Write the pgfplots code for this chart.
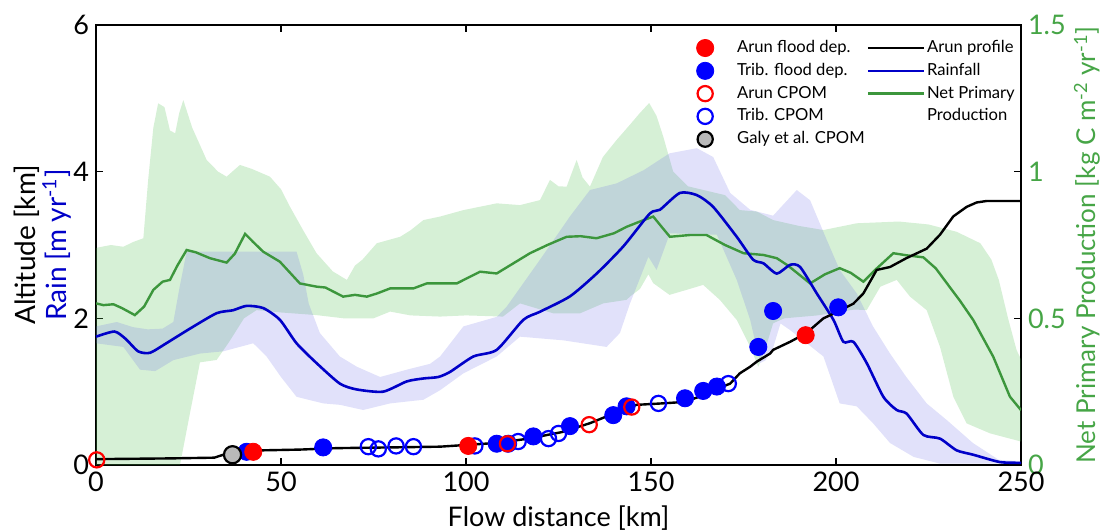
\documentclass[border=0pt]{standalone}
\usepackage{pgfplots}
\pgfplotsset{compat=1.18}
\usepgfplotslibrary{fillbetween}
\usepackage{fontspec}
\setmainfont{Lato}
\definecolor{rainblue}{RGB}{0,0,200}
\definecolor{nppgreen}{RGB}{60,150,60}
\definecolor{labgreen}{RGB}{70,165,70}
\definecolor{bandgreen}{RGB}{91,195,91}
\definecolor{bandblue}{RGB}{105,105,230}
\definecolor{galygray}{RGB}{185,185,185}
\begin{document}
\begin{tikzpicture}
% ---------------- right axis: Net Primary Production ----------------
\begin{axis}[
  width=462.5pt, height=220pt, scale only axis,
  xmin=0, xmax=250, ymin=0, ymax=1.5,
  axis y line*=right, axis x line=none,
  ytick={0,0.5,1,1.5},
  tick align=inside, major tick length=3.5pt,
  y axis line style={black, line width=0.6pt},
  ytick style={black, line width=0.6pt},
  /pgf/number format/assume math mode=true,
  yticklabel style={font=\fontsize{13.5}{15}\selectfont, text=labgreen},
  ylabel={Net Primary Production [kg C m\textsuperscript{-2} yr\textsuperscript{-1}]},
  ylabel style={font=\fontsize{13}{15}\selectfont, text=labgreen,
    at={(axis description cs:1.0715,0.5)}, anchor=center},
]
\addplot[name path=gu, draw=none, forget plot] coordinates {
(0,0.74) (4,0.75) (7.4,0.744) (10,0.76) (12.8,0.773) (14.1,0.972) (15.5,1.15) (16.8,1.233)
(18.5,1.22) (20,1.14) (21.4,1.131) (22.5,1.20) (23.6,1.244) (26,1.15) (29.9,1.04) (33,1.00)
(35.3,0.983) (38.9,1.023) (42,1.01) (47,0.983) (50,0.94) (52.4,0.881) (56,0.80) (59.6,0.722)
(64,0.66) (67.8,0.631) (70,0.68) (72,0.70) (75.9,0.756) (82.2,0.778) (85,0.80) (88.5,0.835)
(93,0.847) (99.3,0.869) (108.3,0.892) (114.6,0.886) (120,0.903) (122.7,0.972) (125,0.95)
(127.2,0.949) (129.9,1.04) (131.5,0.98) (133.5,0.949) (137,1.05) (140.7,1.108) (144.3,1.16)
(147,1.20) (149.5,1.234) (151.5,1.19) (153.3,1.12) (156,1.00) (160,0.95) (170,0.92) (174,0.869)
(178.6,0.864) (183,0.835) (190,0.815) (196.6,0.801) (205.6,0.824) (217,0.83) (225,0.82)
(232.6,0.795) (239,0.756) (242,0.70) (244,0.631) (246.5,0.50) (248.8,0.392) (250,0.36)};
\addplot[name path=gl, draw=none, forget plot] coordinates {
(0,0) (22.7,0) (25.4,0.177) (28.1,0.35) (32.6,0.358) (36,0.42) (40,0.50) (43.4,0.528) (50,0.52)
(59.6,0.511) (67,0.50) (75,0.50) (79.5,0.523) (85,0.51) (93,0.506) (100,0.51) (110,0.506)
(114.6,0.551) (123.6,0.517) (130.8,0.517) (137.1,0.551) (143.4,0.563) (144.3,0.574) (147,0.60)
(149.3,0.65) (150.6,0.62) (155,0.58) (159.6,0.597) (164.1,0.614) (168.6,0.563) (173.2,0.494)
(176.8,0.403) (179,0.335) (181,0.40) (183,0.483) (186,0.50) (195,0.51) (205,0.53) (208.3,0.528)
(212,0.608) (216.4,0.631) (220,0.574) (224.5,0.528) (228.1,0.403) (231.7,0.233) (235.3,0.142)
(241.6,0.108) (250,0.08)};
\addplot[fill=bandgreen, fill opacity=0.25, draw=none, forget plot] fill between[of=gu and gl];
\addplot[nppgreen, line width=1.2pt, forget plot] coordinates {
(0,0.551) (2,0.545) (4.7,0.548) (7,0.535) (10.5,0.511) (13,0.54) (15.5,0.597) (18,0.625)
(20,0.631) (22,0.68) (24.5,0.733) (27,0.725) (30.8,0.705) (35.3,0.690) (37.5,0.72) (40.3,0.788)
(42.5,0.76) (45.2,0.727) (49.7,0.693) (55.1,0.619) (59.6,0.608) (62,0.605) (66.8,0.574) (70,0.58)
(73.2,0.574) (76,0.585) (79.5,0.602) (85.8,0.602) (89.4,0.619) (93,0.619) (97.5,0.619)
(103.8,0.659) (108.3,0.653) (117.3,0.722) (122,0.75) (127.2,0.778) (131,0.78) (135.3,0.773)
(140,0.79) (143.4,0.812) (147,0.83) (150.6,0.847) (153,0.81) (155.1,0.778) (160.5,0.784)
(165,0.784) (170,0.75) (175,0.722) (180.4,0.716) (184,0.705) (187,0.68) (193,0.619) (197,0.65)
(201,0.671) (204,0.655) (207.4,0.625) (211,0.67) (215.5,0.722) (219,0.715) (223.6,0.708)
(227,0.67) (230,0.619) (233.5,0.56) (237.1,0.494) (242.5,0.369) (247,0.233) (250,0.187)};
\end{axis}
% ---------------- left axis: altitude & rain ----------------
\begin{axis}[
  width=462.5pt, height=220pt, scale only axis,
  xmin=0, xmax=250, ymin=0, ymax=6,
  xtick={0,50,...,250}, ytick={0,2,4,6},
  ytick pos=left,
  tick align=inside, major tick length=3.5pt,
  axis line style={line width=0.6pt}, tick style={black, line width=0.6pt},
  clip=false,
  /pgf/number format/assume math mode=true,
  ticklabel style={font=\fontsize{13.5}{15}\selectfont},
  xlabel={Flow distance [km]},
  xlabel style={font=\fontsize{13.5}{15}\selectfont},
  ylabel={Altitude [km]\\\textcolor{rainblue}{Rain [m yr\textsuperscript{-1}]}},
  ylabel style={font=\fontsize{14}{15.5}\selectfont, align=center,
    at={(axis description cs:-0.0573,0.5)}, anchor=center},
  legend style={draw=none, fill=none, at={(0.643,0.975)}, anchor=north west,
    font=\fontsize{8.3}{10}\selectfont, legend columns=5, transpose legend,
    row sep=-0.2pt, column sep=0pt, cells={anchor=west}, inner sep=0pt,
    nodes={inner xsep=1pt}},
]
\addplot[name path=bu, draw=none, forget plot] coordinates {
(0,1.89) (5.6,1.95) (10,1.88) (14,1.85) (18,1.86) (20.9,1.95) (22.5,2.4) (24.5,2.91) (54.2,2.91)
(56,2.6) (57.5,2.2) (60.5,1.80) (65.9,1.48) (70.5,1.34) (76.8,1.20) (84,1.30) (90.3,1.38) (93,1.48)
(99.3,1.89) (108.3,2.02) (111,2.16) (120,2.80) (128.1,3.39) (133.5,3.75) (140.7,3.84) (148,4.02)
(155,4.25) (162.4,4.32) (166.8,4.20) (171.4,3.71) (176.8,3.48) (183,3.40) (189.4,3.75) (193,3.61)
(197.5,3.07) (201,2.66) (205.6,2.34) (210,1.89) (214.6,1.52) (219,1.20) (224.5,0.84) (230,0.61)
(237,0.30) (244,0.07) (250,0.05)};
\addplot[name path=bl, draw=none, forget plot] coordinates {
(0,1.66) (7.4,1.61) (11.9,1.30) (16,1.28) (20.9,1.43) (28.1,1.52) (34.4,1.55) (42.5,1.66)
(46.1,1.48) (50,1.20) (54.2,0.93) (61.4,0.84) (66,0.82) (72.2,0.75) (79.5,0.84) (88.5,0.89)
(93,1.02) (99.3,1.25) (108.3,1.48) (114.6,1.75) (126.3,1.70) (138,1.61) (141.6,1.80) (144.3,2.20)
(149.3,2.84) (151.5,2.66) (155.1,3.16) (167.8,3.14) (173.2,2.52) (176.8,1.98) (179.5,1.39)
(181,1.43) (183,1.60) (185,1.93) (187.6,1.84) (196.6,1.48) (201,0.84) (205.6,0.80) (210,0.57)
(214.6,0.30) (221,0.11) (228,0.02) (250,0.02)};
\addplot[fill=bandblue, fill opacity=0.2, draw=none, forget plot] fill between[of=bu and bl];
% rainfall
\addplot[rainblue, line width=1.3pt, smooth, tension=0.4, forget plot] coordinates {
(0,1.75) (5,1.82) (8,1.72) (11.4,1.55) (14.6,1.53) (19,1.66) (25.4,1.86) (32.6,2.07) (37,2.11)
(40.7,2.17) (45.2,2.14) (49.7,1.98) (54.2,1.66) (59.6,1.39) (65.9,1.11) (70.5,1.03) (77.6,1.00)
(84,1.14) (88.5,1.18) (92.5,1.20) (95.7,1.27) (102,1.48) (108.3,1.57) (115.5,1.98) (120,2.09)
(128.1,2.30) (135.3,2.61) (142.5,2.98) (149.7,3.43) (152.4,3.48) (157.8,3.71) (162.4,3.68)
(166.8,3.52) (173.2,3.11) (177.6,2.80) (180.4,2.75) (184,2.61) (187.6,2.73) (190.3,2.70)
(194.8,2.34) (199.3,1.98) (202,1.68) (204.7,1.68) (208.3,1.39) (212.8,0.93) (216.4,0.75)
(219.1,0.70) (223.6,0.41) (228.1,0.36) (232.6,0.20) (237.1,0.14) (244.3,0.04) (250,0.03)};
% Arun profile
\addplot[black, line width=1.2pt, forget plot] coordinates {
(0,0.08) (10,0.085) (20,0.09) (32,0.10) (34.4,0.14) (36,0.16) (38,0.18) (45,0.20) (55,0.21)
(65,0.23) (80,0.24) (93,0.25) (99,0.27) (108,0.30) (117,0.36) (126,0.45) (133.5,0.57)
(139.8,0.70) (146,0.82) (153,0.84) (159,0.86) (163,0.93) (167,1.02) (171.4,1.11) (174,1.25)
(176.8,1.34) (178.6,1.41) (182.2,1.52) (183,1.57) (187.6,1.68) (192,1.80) (196.6,2.00)
(200,2.08) (204.7,2.20) (207.4,2.34) (211,2.66) (214.6,2.70) (219,2.82) (224.5,2.95)
(228.1,3.14) (231.7,3.39) (235.3,3.52) (238,3.58) (240.7,3.60) (250,3.60)};
% Trib. CPOM
\addplot[only marks, mark=o, mark size=3.8pt, blue, mark options={line width=1.1pt}, forget plot] coordinates {
(73.6,0.25) (76.3,0.22) (81.1,0.26) (85.8,0.25) (102.4,0.26) (114.1,0.32) (122.3,0.36) (125,0.43)
(152,0.84) (170.9,1.11)};
% Trib. flood dep.
\addplot[only marks, mark=*, mark size=4.3pt, blue, forget plot] coordinates {
(40.7,0.18) (61.4,0.24) (108.3,0.29) (111.4,0.29) (118.2,0.39) (128.1,0.53) (139.8,0.68)
(143.4,0.80) (159.2,0.91) (164.1,1.01) (167.8,1.07) (179,1.61) (183,2.10) (200.6,2.15)};
% Arun flood dep.
\addplot[only marks, mark=*, mark size=4.3pt, red, forget plot] coordinates {
(42.5,0.18) (100.6,0.26) (191.8,1.77)};
% Arun CPOM
\addplot[only marks, mark=o, mark size=3.8pt, red, mark options={line width=1.1pt}, forget plot] coordinates {
(0.2,0.07) (111.2,0.29) (133.3,0.55) (144.8,0.79)};
% Galy et al. CPOM
\addplot[only marks, mark=*, mark size=4.3pt, black, mark options={fill=galygray, line width=1.1pt}, forget plot] coordinates {
(36.9,0.14)};
% legend
\addlegendimage{legend image code/.code={\path[draw=none, fill=none] (0pt,-4.5pt) rectangle (22pt,4.5pt); \fill[red] (7pt,0pt) circle (4.3pt);}}
\addlegendentry{Arun flood dep.}
\addlegendimage{legend image code/.code={\path[draw=none, fill=none] (0pt,-4.5pt) rectangle (22pt,4.5pt); \fill[blue] (7pt,0pt) circle (4.3pt);}}
\addlegendentry{Trib. flood dep.}
\addlegendimage{legend image code/.code={\path[draw=none, fill=none] (0pt,-4.5pt) rectangle (22pt,4.5pt); \draw[red, line width=1.1pt] (7pt,0pt) circle (3.8pt);}}
\addlegendentry{Arun CPOM}
\addlegendimage{legend image code/.code={\path[draw=none, fill=none] (0pt,-4.5pt) rectangle (22pt,4.5pt); \draw[blue, line width=1.1pt] (7pt,0pt) circle (3.8pt);}}
\addlegendentry{Trib. CPOM}
\addlegendimage{legend image code/.code={\path[draw=none, fill=none] (0pt,-4.5pt) rectangle (22pt,4.5pt); \draw[black, fill=galygray, line width=1.1pt] (7pt,0pt) circle (3.8pt);}}
\addlegendentry{Galy et al. CPOM}
\addlegendimage{legend image code/.code={\draw[black, line width=1.2pt] (0pt,0pt) -- (28pt,0pt);}}
\addlegendentry{Arun profile}
\addlegendimage{legend image code/.code={\draw[rainblue, line width=1.2pt] (0pt,0pt) -- (28pt,0pt);}}
\addlegendentry{Rainfall}
\addlegendimage{legend image code/.code={\draw[nppgreen, line width=1.2pt] (0pt,0pt) -- (28pt,0pt);}}
\addlegendentry{Net Primary}
\addlegendimage{empty legend}
\addlegendentry{Production}
\addlegendimage{empty legend}
\addlegendentry{}
\end{axis}
\pgfresetboundingbox
\path[use as bounding box] (-48pt,-32.5pt) rectangle (503pt,232.5pt);
\end{tikzpicture}
\end{document}
